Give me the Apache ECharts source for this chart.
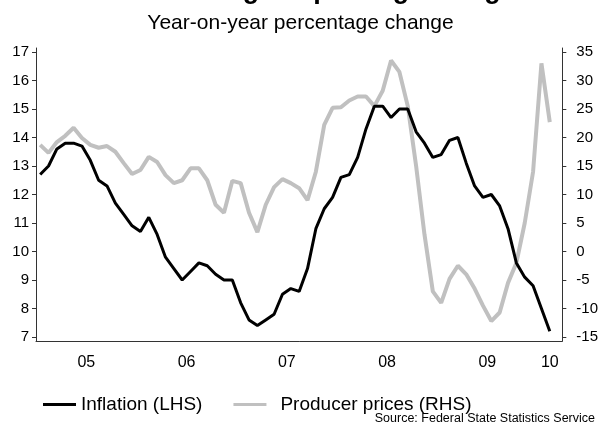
<!DOCTYPE html>
<html>
<head>
<meta charset="utf-8">
<script src="https://cdn.jsdelivr.net/npm/echarts@6/dist/echarts.min.js"></script>
<style>
  html, body { margin: 0; padding: 0; background: #fff; }
  #chart { width: 601px; height: 423px; }
</style>
</head>
<body>
<div id="chart"></div>
<script>
// monthly categories Jan 2005 .. Mar 2010
const months = [
  '2005-01','2005-02','2005-03','2005-04','2005-05','2005-06','2005-07','2005-08','2005-09','2005-10','2005-11','2005-12',
  '2006-01','2006-02','2006-03','2006-04','2006-05','2006-06','2006-07','2006-08','2006-09','2006-10','2006-11','2006-12',
  '2007-01','2007-02','2007-03','2007-04','2007-05','2007-06','2007-07','2007-08','2007-09','2007-10','2007-11','2007-12',
  '2008-01','2008-02','2008-03','2008-04','2008-05','2008-06','2008-07','2008-08','2008-09','2008-10','2008-11','2008-12',
  '2009-01','2009-02','2009-03','2009-04','2009-05','2009-06','2009-07','2009-08','2009-09','2009-10','2009-11','2009-12',
  '2010-01','2010-02','2010-03'
];

// CPI inflation, % y/y (LHS)
const inflation = [
  12.7, 13.0, 13.6, 13.8, 13.8, 13.7, 13.2, 12.5, 12.3, 11.7, 11.3, 10.9,
  10.7, 11.2, 10.6, 9.8, 9.4, 9.0, 9.3, 9.6, 9.5, 9.2, 9.0, 9.0,
  8.2, 7.6, 7.4, 7.6, 7.8, 8.5, 8.7, 8.6, 9.4, 10.8, 11.5, 11.9,
  12.6, 12.7, 13.3, 14.3, 15.1, 15.1, 14.7, 15.0, 15.0, 14.2, 13.8, 13.3,
  13.4, 13.9, 14.0, 13.1, 12.3, 11.9, 12.0, 11.6, 10.8, 9.6, 9.1, 8.8,
  8.0, 7.2
];

// producer prices, % y/y (RHS)
const producerPrices = [
  18.7, 17.3, 19.2, 20.3, 21.7, 19.9, 18.7, 18.2, 18.5, 17.5, 15.5, 13.6,
  14.3, 16.6, 15.7, 13.4, 12.0, 12.5, 14.6, 14.6, 12.5, 8.2, 6.8, 12.4,
  12.0, 6.8, 3.4, 8.2, 11.3, 12.7, 12.0, 11.1, 9.0, 14.0, 22.2, 25.2,
  25.3, 26.5, 27.2, 27.2, 25.5, 28.2, 33.5, 31.5, 25.5, 15.0, 3.0, -7.0,
  -9.0, -4.8, -2.5, -4.0, -6.5, -9.5, -12.2, -10.7, -5.5, -2.0, 5.0, 14.0,
  33.0, 22.7
];

const yearLabels = ['05', '06', '07', '08', '09', '10'];
const leftTicks = [7, 8, 9, 10, 11, 12, 13, 14, 15, 16, 17];
const rightTicks = [-15, -10, -5, 0, 5, 10, 15, 20, 25, 30, 35];

const FONT = 'Liberation Sans, Arial, sans-serif';
const AXIS = '#333';

// label positions: middle of each year, last one in the short 2010 stub
const labelIdx = [6, 18, 30, 42, 54, 61];

const chart = echarts.init(document.getElementById('chart'));

chart.setOption({
  animation: false,
  textStyle: { fontFamily: FONT },
  title: [
    {
      text: 'Inflation slowing despite high PPI gains',
      left: 'center',
      top: -28,
      textStyle: { fontSize: 27, fontWeight: 'bold', color: '#000', fontFamily: FONT }
    },
    {
      text: 'Year-on-year percentage change',
      left: 'center',
      top: 8,
      textStyle: { fontSize: 21, fontWeight: 'normal', color: '#000', fontFamily: FONT }
    }
  ],
  legend: {
    left: 38,
    top: 390,
    icon: 'rect',
    itemWidth: 33,
    itemHeight: 3,
    itemGap: 31,
    formatter: (name) => name.indexOf('Producer') === 0 ? '{p|' + name + '}' : name,
    textStyle: {
      fontSize: 19, color: '#000', fontFamily: FONT,
      rich: { p: { fontSize: 19, color: '#000', fontFamily: FONT, padding: [0, 0, 0, 9] } }
    },
    data: ['Inflation (LHS)', 'Producer prices (RHS)']
  },
  graphic: [{
    type: 'text',
    right: 6,
    bottom: -2,
    style: {
      text: 'Source: Federal State Statistics Service',
      fontSize: 12.5,
      fontFamily: FONT,
      fill: '#000'
    }
  }],
  grid: { left: 36, right: 36, top: 48, bottom: 82 },
  xAxis: {
    type: 'category',
    data: months,
    boundaryGap: true,
    axisLine: { onZero: false, lineStyle: { color: AXIS, width: 1 } },
    axisTick: {
      length: 4,
      interval: (i) => i % 12 === 0,
      lineStyle: { color: AXIS }
    },
    axisLabel: {
      interval: (i) => labelIdx.indexOf(i) >= 0,
      margin: 14,
      fontSize: 16,
      color: '#000',
      formatter: (v, i) => {
        const k = labelIdx.indexOf(i);
        if (k < 0) return '';
        return k < 5 ? '{a|' + yearLabels[k] + '}' : '{b|' + yearLabels[k] + '}';
      },
      rich: {
        a: { fontSize: 16, fontFamily: FONT, color: '#000', padding: [0, 8, 0, 0] },
        b: { fontSize: 16, fontFamily: FONT, color: '#000' }
      }
    },
    splitLine: { show: false }
  },
  yAxis: [
    {
      type: 'value',
      min: 6.86,
      max: 17.14,
      position: 'left',
      axisLine: { show: true, lineStyle: { color: AXIS, width: 1 } },
      axisTick: { show: true, length: 4, customValues: leftTicks, lineStyle: { color: AXIS } },
      axisLabel: { customValues: leftTicks, margin: 7, fontSize: 15, color: '#000' },
      splitLine: { show: false }
    },
    {
      type: 'value',
      min: -15.7,
      max: 35.7,
      position: 'right',
      axisLine: { show: true, lineStyle: { color: AXIS, width: 1 } },
      axisTick: { show: true, length: 4, customValues: rightTicks, lineStyle: { color: AXIS } },
      axisLabel: { customValues: rightTicks, margin: 14, fontSize: 15, color: '#000' },
      splitLine: { show: false }
    }
  ],
  series: [
    {
      name: 'Producer prices (RHS)',
      type: 'line',
      yAxisIndex: 1,
      data: producerPrices,
      symbol: 'none',
      z: 2,
      lineStyle: { color: '#c0c0c0', width: 4 },
      itemStyle: { color: '#c0c0c0' }
    },
    {
      name: 'Inflation (LHS)',
      type: 'line',
      yAxisIndex: 0,
      data: inflation,
      symbol: 'none',
      z: 3,
      lineStyle: { color: '#000', width: 3 },
      itemStyle: { color: '#000' }
    }
  ]
});
</script>
</body>
</html>
